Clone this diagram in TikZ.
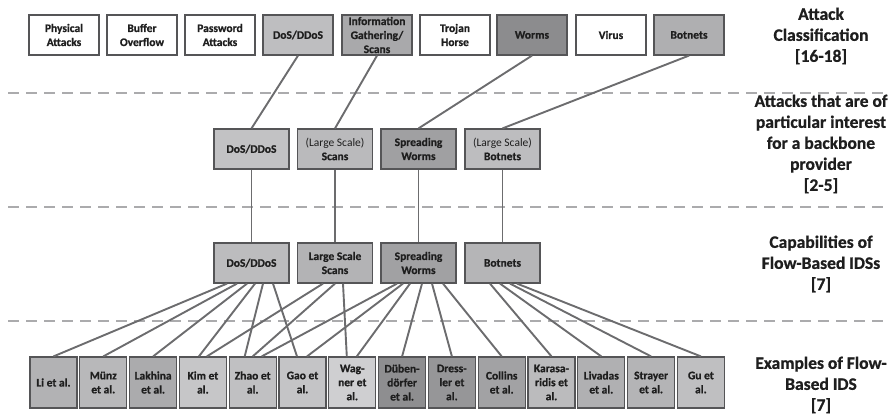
\documentclass[tikz,border=0pt]{standalone}
\usepackage{fontspec}
\setmainfont{Carlito}[BoldFeatures={FakeBold=0.8}]
\definecolor{linkgray}{HTML}{6C6C6E}
\definecolor{rimgray}{HTML}{555557}
\definecolor{sepgray}{HTML}{ABABAD}
\definecolor{inkgray}{HTML}{1E1E1E}
\tikzstyle{box}=[draw=rimgray, line width=1.2pt, text=inkgray, align=center, inner sep=0pt, font=\bfseries\fontsize{11.5}{14}\selectfont]
\tikzstyle{classbox}=[box, minimum width=70pt, minimum height=40pt]
\tikzstyle{attackbox}=[box, minimum width=75pt, minimum height=40pt]
\tikzstyle{idsbox}=[box, minimum width=47pt, minimum height=51pt]
\tikzstyle{link}=[draw=linkgray, line width=1.9pt]
\tikzstyle{sep}=[draw=sepgray, line width=1.4pt, dash pattern=on 11pt off 7pt]
\tikzstyle{level}=[text=inkgray, align=center, font=\bfseries\fontsize{17.5}{21}\selectfont]

\begin{document}
\begin{tikzpicture}[x=1pt, y=-1pt]
\useasboundingbox (0, 0) rectangle (895, 415);
% separators
\coordinate (s1l) at (8, 93);  \coordinate (s1r) at (890, 93);
\coordinate (s2l) at (8, 207); \coordinate (s2r) at (890, 207);
\coordinate (s3l) at (8, 321); \coordinate (s3r) at (890, 321);
\draw[sep] (s1l) -- (s1r);
\draw[sep] (s2l) -- (s2r);
\draw[sep] (s3l) -- (s3r);
% attack classification
\node[classbox, fill=white] at (64, 35) (phys) {Physical\\Attacks};
\node[classbox, fill=white] at (142, 35) (buf) {Buffer\\Overflow};
\node[classbox, fill=white] at (220, 35) (pass) {Password\\Attacks};
\node[classbox, fill={rgb,255:red,190;green,190;blue,192}] at (298, 35) (dos1) {DoS/DDoS};
\node[classbox, fill={rgb,255:red,169;green,169;blue,171}] at (377, 35) (info) {Information\\Gathering/\\Scans};
\node[classbox, fill=white] at (455, 35) (troj) {Trojan\\Horse};
\node[classbox, fill={rgb,255:red,140;green,140;blue,142}] at (532, 35) (worms1) {Worms};
\node[classbox, fill=white] at (611, 35) (virus) {Virus};
\node[classbox, fill={rgb,255:red,175;green,175;blue,177}] at (689, 35) (bot1) {Botnets};
% attacks of interest
\node[attackbox, fill={rgb,255:red,194;green,194;blue,196}] at (251.5, 149) (dos2) {DoS/DDoS};
\node[attackbox, fill={rgb,255:red,186;green,186;blue,188}] at (335, 149) (scans2) {{\mdseries (Large Scale)}\\Scans};
\node[attackbox, fill={rgb,255:red,160;green,160;blue,162}] at (418.5, 149) (spread2) {Spreading\\Worms};
\node[attackbox, fill={rgb,255:red,189;green,189;blue,191}] at (502.5, 149) (bot2) {{\mdseries (Large Scale)}\\Botnets};
% capabilities
\node[attackbox, fill={rgb,255:red,188;green,188;blue,190}] at (251.5, 263) (dos3) {DoS/DDoS};
\node[attackbox, fill={rgb,255:red,179;green,179;blue,181}] at (335, 263) (scans3) {Large Scale\\Scans};
\node[attackbox, fill={rgb,255:red,161;green,161;blue,163}] at (418.5, 263) (spread3) {Spreading\\Worms};
\node[attackbox, fill={rgb,255:red,181;green,181;blue,183}] at (502.5, 263) (bot3) {Botnets};
% examples
\node[idsbox, fill={rgb,255:red,178;green,178;blue,180}] at (53.5, 382.5) (li) {Li et al.};
\node[idsbox, fill={rgb,255:red,184;green,184;blue,186}] at (103.3, 382.5) (muenz) {Münz\\et al.};
\node[idsbox, fill={rgb,255:red,171;green,171;blue,173}] at (153.1, 382.5) (lakhina) {Lakhina\\et al.};
\node[idsbox, fill={rgb,255:red,198;green,198;blue,200}] at (202.9, 382.5) (kim) {Kim et\\al.};
\node[idsbox, fill={rgb,255:red,192;green,192;blue,194}] at (252.7, 382.5) (zhao) {Zhao et\\al.};
\node[idsbox, fill={rgb,255:red,196;green,196;blue,198}] at (302.5, 382.5) (gao) {Gao et\\al.};
\node[idsbox, fill={rgb,255:red,207;green,207;blue,209}] at (352.3, 382.5) (wagner) {Wag-\\ner et\\al.};
\node[idsbox, fill={rgb,255:red,142;green,142;blue,144}] at (402.1, 382.5) (dueben) {Düben-\\dörfer\\et al.};
\node[idsbox, fill={rgb,255:red,150;green,150;blue,152}] at (451.9, 382.5) (dressler) {Dress-\\ler et\\al.};
\node[idsbox, fill={rgb,255:red,162;green,162;blue,164}] at (501.7, 382.5) (collins) {Collins\\et al.};
\node[idsbox, fill={rgb,255:red,187;green,187;blue,189}] at (551.5, 382.5) (kara) {Karasa-\\ridis et\\al.};
\node[idsbox, fill={rgb,255:red,176;green,176;blue,178}] at (601.3, 382.5) (livadas) {Livadas\\et al.};
\node[idsbox, fill={rgb,255:red,180;green,180;blue,182}] at (651.1, 382.5) (strayer) {Strayer\\et al.};
\node[idsbox, fill={rgb,255:red,191;green,191;blue,193}] at (700.9, 382.5) (gu) {Gu et\\al.};
% level labels
\node[level] at (821, 36) (lev1) {Attack\\Classification\\{[16-18]}};
\node[level] at (821, 144) (lev2) {Attacks that are of\\particular interest\\for a backbone\\provider\\{[2-5]}};
\node[level] at (821, 264) (lev3) {Capabilities of\\Flow-Based IDSs\\{[7]}};
\node[level] at (821, 385) (lev4) {Examples of Flow-\\Based IDS\\{[7]}};
% classification -> interest
\draw[link] (dos1.south) -- (dos2.north);
\draw[link] (info.south) -- (scans2.north);
\draw[link] (worms1.south) -- (spread2.north);
\draw[link] (bot1.south) -- (bot2.north);
% interest -> capabilities
\draw[link] (dos2.south) -- (dos3.north);
\draw[link] (scans2.south) -- (scans3.north);
\draw[link] (spread2.south) -- (spread3.north);
\draw[link] (bot2.south) -- (bot3.north);
% capabilities -> examples
\draw[link] ([xshift=-24.5pt]dos3.south) -- (li.north);
\draw[link] ([xshift=-14.5pt]dos3.south) -- (muenz.north);
\draw[link] ([xshift=-4.5pt]dos3.south) -- (lakhina.north);
\draw[link] ([xshift=3.5pt]dos3.south) -- ([xshift=-4pt]kim.north);
\draw[link] ([xshift=11.5pt]dos3.south) -- ([xshift=-8pt]zhao.north);
\draw[link] ([xshift=21.5pt]dos3.south) -- ([xshift=-5.5pt]gao.north);
\draw[link] ([xshift=-12pt]scans3.south) -- ([xshift=4pt]kim.north);
\draw[link] ([xshift=0pt]scans3.south) -- ([xshift=0pt]zhao.north);
\draw[link] ([xshift=8pt]scans3.south) -- ([xshift=-5.5pt]wagner.north);
\draw[link] ([xshift=-21.5pt]spread3.south) -- ([xshift=9pt]zhao.north);
\draw[link] ([xshift=-15.5pt]spread3.south) -- ([xshift=4.5pt]gao.north);
\draw[link] ([xshift=-8.5pt]spread3.south) -- ([xshift=4.5pt]wagner.north);
\draw[link] ([xshift=3.5pt]spread3.south) -- (dueben.north);
\draw[link] ([xshift=13.5pt]spread3.south) -- (dressler.north);
\draw[link] ([xshift=24.5pt]spread3.south) -- (collins.north);
\draw[link] ([xshift=-12.5pt]bot3.south) -- (kara.north);
\draw[link] ([xshift=-2.5pt]bot3.south) -- (livadas.north);
\draw[link] ([xshift=7.5pt]bot3.south) -- (strayer.north);
\draw[link] ([xshift=14.5pt]bot3.south) -- (gu.north);
\end{tikzpicture}
\end{document}
